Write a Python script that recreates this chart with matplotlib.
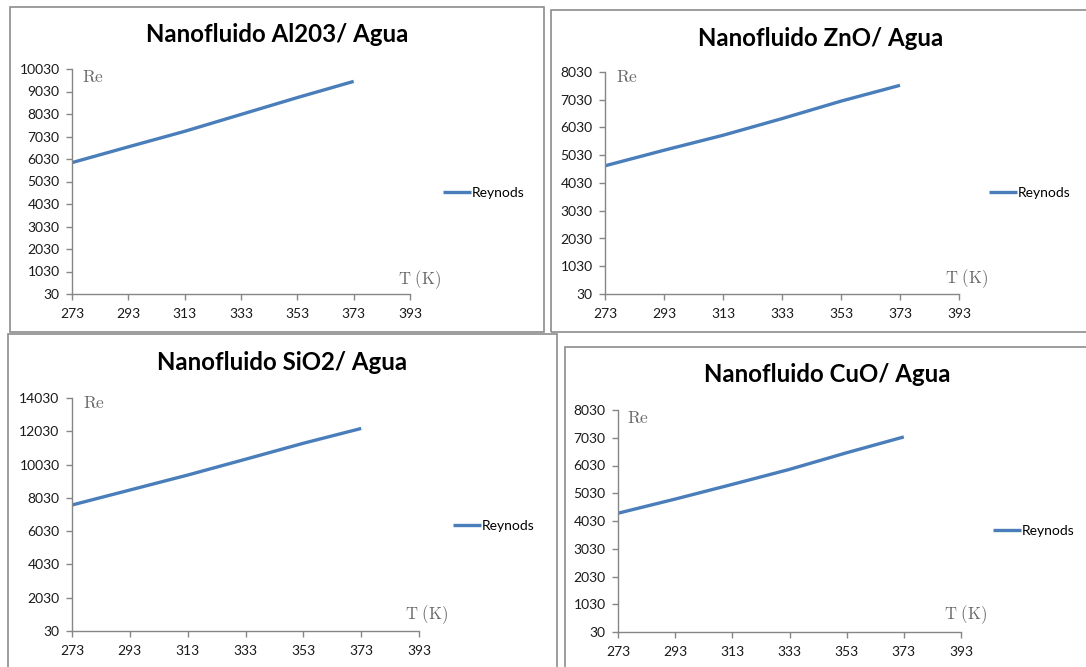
import matplotlib
matplotlib.use("Agg")
import matplotlib.pyplot as plt
from matplotlib.patches import Rectangle

plt.rcParams['mathtext.fontset'] = 'cm'

# ---- data ----
temps = [273, 293, 313, 333, 353, 373]
re_al2o3 = [5870, 6570, 7260, 8010, 8760, 9480]
re_zno = [4650, 5210, 5750, 6350, 6980, 7550]
re_sio2 = [7600, 8500, 9400, 10350, 11310, 12200]
re_cuo = [4310, 4820, 5350, 5890, 6490, 7060]

titles = ["Nanofluido Al203/ Agua", "Nanofluido ZnO/ Agua",
          "Nanofluido SiO2/ Agua", "Nanofluido CuO/ Agua"]
xticks = [273, 293, 313, 333, 353, 373, 393]
yticks_al2o3 = [30, 1030, 2030, 3030, 4030, 5030, 6030, 7030, 8030, 9030, 10030]
yticks_zno = [30, 1030, 2030, 3030, 4030, 5030, 6030, 7030, 8030]
yticks_sio2 = [30, 2030, 4030, 6030, 8030, 10030, 12030, 14030]
yticks_cuo = [30, 1030, 2030, 3030, 4030, 5030, 6030, 7030, 8030]
series_label = "Reynods"

W, H = 1086, 667
fig = plt.figure(figsize=(W / 100, H / 100), dpi=100)
fig.patch.set_facecolor('white')

LINE = '#4A7EBB'
AXC = '#868686'
BORDER = '#8c8c8c'

def fx(px):
    return px / W

def fy(py):
    return 1 - py / H

panels = [
    dict(border=(10, 7, 544, 332), ax=(72, 410, 69, 294), title=(277, 35),
         leg=(443, 193), re=(82, 77), tk=(398, 280), y=re_al2o3, yt=yticks_al2o3),
    dict(border=(551, 10, 1090, 332), ax=(605, 959, 72, 294), title=(821, 38),
         leg=(989, 193), re=(616, 77), tk=(945, 279), y=re_zno, yt=yticks_zno),
    dict(border=(8, 334, 557, 672), ax=(72, 419, 398, 631), title=(282, 363),
         leg=(453, 526), re=(83, 403), tk=(405, 615), y=re_sio2, yt=yticks_sio2),
    dict(border=(565, 347, 1090, 672), ax=(618, 961, 410, 632), title=(827, 374),
         leg=(993, 531), re=(627, 418), tk=(944, 615), y=re_cuo, yt=yticks_cuo),
]

for i, p in enumerate(panels):
    x0, y0, x1, y1 = p['border']
    fig.patches.append(Rectangle((fx(x0), fy(y1)), fx(x1 - x0), (y1 - y0) / H,
                                 transform=fig.transFigure, fill=False,
                                 edgecolor=BORDER, linewidth=1.2, zorder=0))
    l, r, t, b = p['ax']
    ax = fig.add_axes([fx(l), fy(b), fx(r - l), (b - t) / H])
    ax.plot(temps, p['y'], color=LINE, linewidth=2.4, label=series_label,
            solid_capstyle='butt')
    ax.set_xlim(273, 393)
    ax.set_ylim(p['yt'][0], p['yt'][-1])
    ax.set_xticks(xticks)
    ax.set_yticks(p['yt'])
    for s in ['top', 'right']:
        ax.spines[s].set_visible(False)
    for s in ['left', 'bottom']:
        ax.spines[s].set_color(AXC)
        ax.spines[s].set_linewidth(1.0)
    ax.tick_params(axis='both', direction='out', length=4, width=1.0,
                   color=AXC, labelsize=10, labelcolor='#1a1a1a')
    for lab in ax.get_xticklabels() + ax.get_yticklabels():
        lab.set_fontfamily('Lato')
    ax.tick_params(axis='x', pad=6)
    ax.tick_params(axis='y', pad=5)
    ax.patch.set_alpha(0)

    fig.text(fx(p['title'][0]), fy(p['title'][1]), titles[i], ha='center',
             va='center', fontsize=17.3, fontweight='bold', family='Lato')
    fig.text(fx(p['re'][0]), fy(p['re'][1]), r'$\mathrm{Re}$', ha='left',
             va='center', fontsize=12.5, color='#6a6a6a')
    fig.text(fx(p['tk'][0]), fy(p['tk'][1]), r'$\mathrm{T\ (K)}$', ha='left',
             va='center', fontsize=12, color='#6a6a6a')

    ax.legend(loc='center left', bbox_to_anchor=(fx(p['leg'][0]), fy(p['leg'][1])),
              bbox_transform=fig.transFigure, frameon=False,
              handlelength=2.0, handletextpad=0.05, borderpad=0,
              borderaxespad=0, prop={'family': 'Lato', 'size': 10})

fig.savefig('out.png', dpi=100, facecolor='white')
